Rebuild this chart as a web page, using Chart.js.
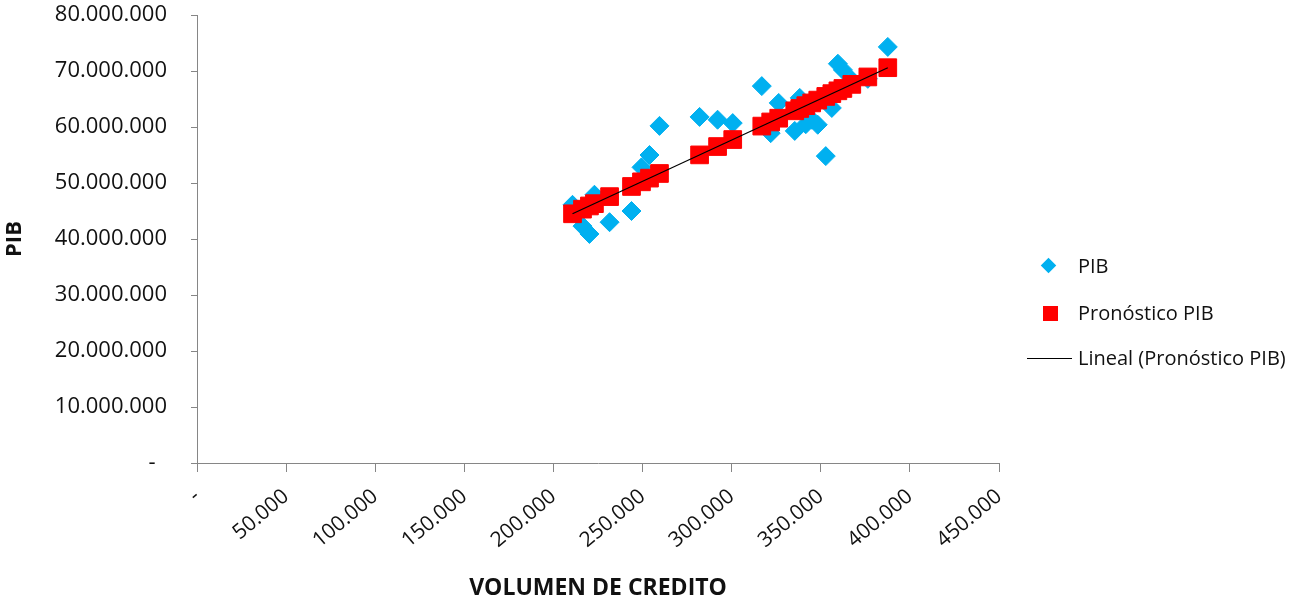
<!DOCTYPE html>
<html>
<head>
<meta charset="utf-8">
<script src="https://cdn.jsdelivr.net/npm/chart.js@4/dist/chart.umd.min.js"></script>
<style>
  html, body { margin: 0; padding: 0; background: #fff; }
  #wrap { position: relative; width: 1314px; height: 608px; }
  canvas { position: absolute; left: 0; top: 0; }
  .lg { position: absolute; font-family: "Open Sans", sans-serif; font-size: 20px; color: #111; white-space: nowrap; line-height: 24px; }
  .mk { position: absolute; }
</style>
</head>
<body>
<div id="wrap">
  <canvas id="c" width="1314" height="608"></canvas>
  <div class="mk" style="left:1043px;top:260px;width:11px;height:11px;background:#00B0F0;transform:rotate(45deg);"></div>
  <div class="lg" style="left:1078px;top:254px;">PIB</div>
  <div class="mk" style="left:1043px;top:306px;width:15px;height:15px;background:#FF0000;"></div>
  <div class="lg" style="left:1078px;top:301px;">Pronóstico PIB</div>
  <div class="mk" style="left:1027px;top:358px;width:45px;height:1px;background:#000;"></div>
  <div class="lg" style="left:1078px;top:346px;">Lineal (Pronóstico PIB)</div>
</div>
<script>
// Volumen de crédito (x) for each observation
const credito = [210700, 216300, 220200, 223000, 231500, 243800, 249400, 253900, 259500,
  282000, 292100, 300600, 316900, 321900, 326400, 335400, 338200, 341600, 344900,
  348300, 352800, 356200, 359600, 362400, 367400, 376400, 387600];
// PIB observado
const pib = [46100000, 42300000, 40900000, 47900000, 43000000, 45000000, 52800000, 55000000, 60200000,
  61800000, 61300000, 60700000, 67300000, 58900000, 64300000, 59300000, 65200000, 60500000, 61300000,
  60400000, 54800000, 63400000, 71300000, 70200000, 68400000, 68600000, 74300000];
// Pronóstico PIB
const pronostico = [44500000, 45330000, 45900000, 46310000, 47570000, 49380000, 50210000, 50870000, 51700000,
  55020000, 56510000, 57760000, 60160000, 60900000, 61570000, 62890000, 63310000, 63810000, 64300000,
  64800000, 65460000, 65960000, 66460000, 66880000, 67610000, 68940000, 70590000];
// Línea de tendencia (extremos)
const tendenciaX = [210700, 387600];
const tendenciaY = [44500000, 70590000];

const xTicksMin = 0, xTicksMax = 450000, xStep = 50000;
const yTicksMin = 0, yTicksMax = 80000000, yStep = 10000000;

function fmt(v) {
  if (v === 0) return '-';
  return String(Math.round(v)).replace(/\B(?=(\d{3})+(?!\d))/g, '.');
}

const pibPts = credito.map((x, i) => ({ x: x, y: pib[i] }));
const proPts = credito.map((x, i) => ({ x: x, y: pronostico[i] }));
const trendPts = tendenciaX.map((x, i) => ({ x: x, y: tendenciaY[i] }));

const FONT = '"Open Sans", sans-serif';

function zeroPad(s) { s.paddingTop = 0; s.paddingBottom = 0; s.paddingLeft = 0; s.paddingRight = 0; }

new Chart(document.getElementById('c'), {
  type: 'scatter',
  data: {
    datasets: [
      { type: 'line', label: 'Lineal (Pronóstico PIB)', data: trendPts, borderColor: '#000', borderWidth: 1.2,
        pointRadius: 0, fill: false, order: 0 },
      { label: 'Pronóstico PIB', data: proPts, pointStyle: 'rect', pointRadius: 12.5, pointBorderWidth: 1,
        backgroundColor: '#FF0000', borderColor: '#FF0000', order: 1 },
      { label: 'PIB', data: pibPts, pointStyle: 'rectRot', pointRadius: 9.5, pointBorderWidth: 1,
        backgroundColor: '#00B0F0', borderColor: '#00B0F0', order: 2 }
    ]
  },
  options: {
    responsive: false,
    devicePixelRatio: 1,
    animation: false,
    layout: { padding: { left: 0, top: 15, right: 315, bottom: 0 } },
    plugins: { legend: { display: false }, tooltip: { enabled: false } },
    scales: {
      x: {
        type: 'linear', min: xTicksMin, max: xTicksMax,
        afterFit: s => { s.height = 145; zeroPad(s); },
        grid: { drawOnChartArea: false, drawTicks: true, tickLength: 9, color: '#868686' },
        border: { color: '#868686', width: 1 },
        ticks: { stepSize: xStep, callback: v => fmt(v), minRotation: 40, maxRotation: 40, padding: 12,
          color: '#111', font: { family: FONT, size: 21 } },
        title: { display: true, text: 'VOLUMEN DE CREDITO', color: '#111', padding: { top: 0, bottom: 6 },
          font: { family: FONT, size: 23, weight: 'bold' } }
      },
      y: {
        type: 'linear', min: yTicksMin, max: yTicksMax,
        afterFit: s => { s.width = 197; zeroPad(s); },
        grid: { drawOnChartArea: false, drawTicks: true, tickLength: 6, color: '#868686' },
        border: { color: '#868686', width: 1 },
        ticks: { stepSize: yStep, callback: v => (v === 0 ? '-  ' : fmt(v)), padding: 24,
          color: '#111', font: { family: FONT, size: 22 } },
        title: { display: true, text: 'PIB', color: '#111', padding: { top: 2, bottom: 0 },
          font: { family: FONT, size: 22, weight: 'bold' } }
      }
    }
  }
});
</script>
</body>
</html>
